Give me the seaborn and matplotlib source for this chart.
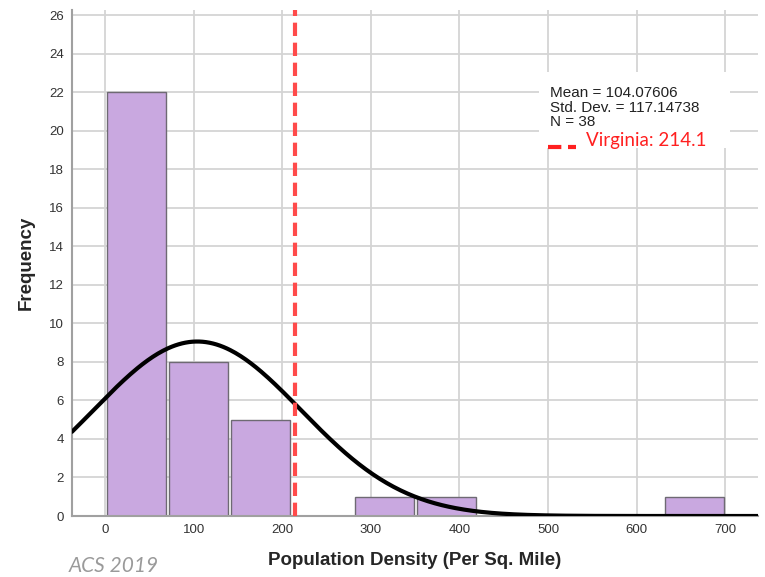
import numpy as np
import pandas as pd
import matplotlib
matplotlib.use("Agg")
import matplotlib.pyplot as plt
import seaborn as sns
from matplotlib.lines import Line2D
from matplotlib.patches import Rectangle

# ---- data ----
bin_edges = [0, 70, 140, 210, 280, 350, 420, 490, 560, 630, 700]
bin_counts = [22, 8, 5, 0, 1, 1, 0, 0, 0, 1]
mean_val = 104.07606
sd_val = 117.14738
n_val = 38
virginia = 214.1
x_ticks = [0, 100, 200, 300, 400, 500, 600, 700]
y_ticks = list(range(0, 27, 2))

centers = [(a + b) / 2 for a, b in zip(bin_edges[:-1], bin_edges[1:])]
df = pd.DataFrame({"density": centers, "count": bin_counts})

sns.set_theme(style="white")
plt.rcParams["font.family"] = ["Liberation Sans", "DejaVu Sans"]

fig = plt.figure(figsize=(7.65, 5.77), dpi=100)
ax = fig.add_axes([0.0941, 0.1057, 0.8969, 0.877])

xmin, xmax = -37.3, 737
ax.set_xlim(xmin, xmax)
ax.set_ylim(0, 26.27)

# grid
for t in x_ticks:
    ax.axvline(t, color="#d4d4d4", lw=1.3, zorder=0)
for t in y_ticks:
    ax.axhline(t, color="#d4d4d4", lw=1.3, zorder=0)

sns.histplot(data=df, x="density", weights="count", bins=bin_edges,
             shrink=0.95, color="#c9a8e0", alpha=1, edgecolor="#6e6a73",
             linewidth=1.0, ax=ax, zorder=2)

# normal curve
xs = np.linspace(xmin, xmax, 400)
bw = bin_edges[1] - bin_edges[0]
ys = n_val * bw * np.exp(-0.5 * ((xs - mean_val) / sd_val) ** 2) / (sd_val * np.sqrt(2 * np.pi))
sns.lineplot(x=xs, y=ys, color="black", lw=3, ax=ax, zorder=4)

# Virginia line
ax.axvline(virginia, color="#ff4b4b", lw=3, ls=(0, (3.2, 1.6)), zorder=5)

ax.set_xticks(x_ticks)
ax.set_yticks(y_ticks)
ax.tick_params(axis="both", length=0, labelsize=9.5, colors="#333333", pad=6)
for s in ["top", "right"]:
    ax.spines[s].set_visible(False)
for s in ["left", "bottom"]:
    ax.spines[s].set_color("#a0a0a0")
    ax.spines[s].set_linewidth(1.5)

ax.set_xlabel("Population Density (Per Sq. Mile)", fontsize=13.5, fontweight="bold", labelpad=11)
ax.set_ylabel("Frequency", fontsize=13.5, fontweight="bold", labelpad=10)

# stats box
ax.add_patch(Rectangle((0.6813, 0.728), 0.2781, 0.15, transform=ax.transAxes,
                       facecolor="white", edgecolor="none", zorder=6))
fig.text(550 / 765, 1 - 93 / 577, f"Mean = {mean_val:.5f}", fontsize=11,
         color="#222222", va="center", zorder=7)
fig.text(550 / 765, 1 - 108 / 577, f"Std. Dev. = {sd_val:.5f}", fontsize=11,
         color="#222222", va="center", zorder=7)
fig.text(550 / 765, 1 - 122 / 577, f"N = {n_val}", fontsize=11,
         color="#222222", va="center", zorder=7)
fig.add_artist(Line2D([548 / 765, 576 / 765], [1 - 147 / 577, 1 - 147 / 577],
                      color="#ff2020", lw=3, ls=(0, (3.2, 1.6))))
fig.text(586 / 765, 1 - 141 / 577, f"Virginia: {virginia}", fontsize=13.5,
         color="#ff2020", va="center", family=["Lato", "DejaVu Sans"])

fig.text(69 / 765, 1 - 566 / 577, "ACS 2019", fontsize=15, color="#9a9a9a",
         style="italic", va="center", family=["Lato", "DejaVu Sans"])

fig.savefig("out.png", dpi=100, facecolor="white")
